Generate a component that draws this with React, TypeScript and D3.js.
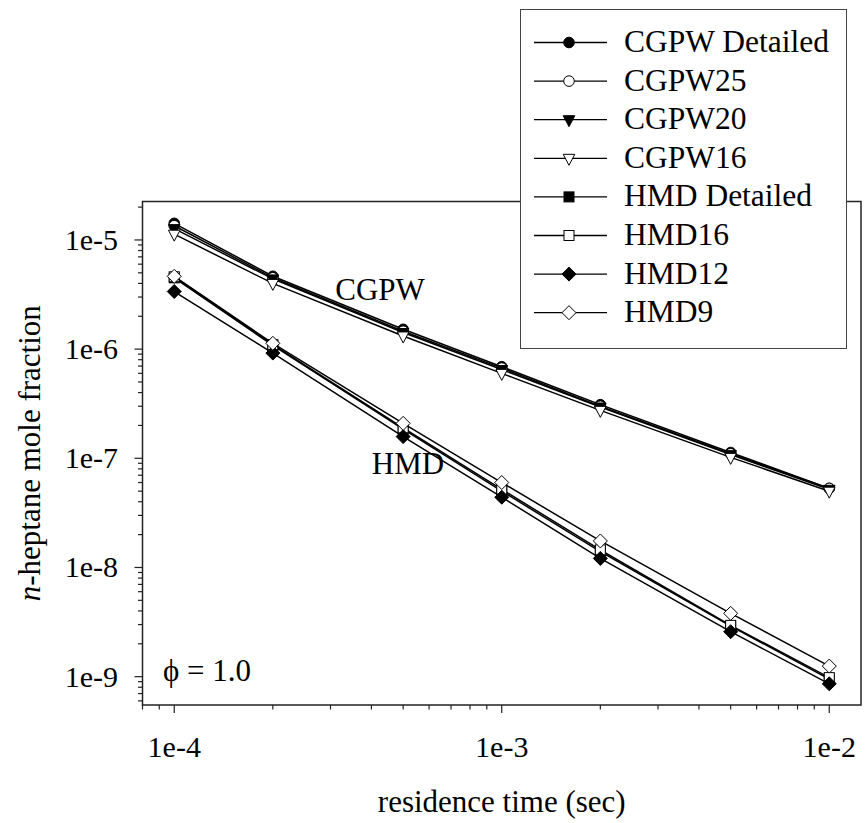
import * as d3 from 'd3'

// residence time (sec)
const times = [1e-4, 2e-4, 5e-4, 1e-3, 2e-3, 5e-3, 1e-2]

// n-heptane mole fraction per mechanism
const cgpwDetailed = [1.42e-5, 4.65e-6, 1.52e-6, 6.9e-7, 3.1e-7, 1.13e-7, 5.3e-8]
const cgpw25 = [1.35e-5, 4.5e-6, 1.46e-6, 6.7e-7, 3.0e-7, 1.1e-7, 5.3e-8]
const cgpw20 = [1.27e-5, 4.4e-6, 1.42e-6, 6.5e-7, 2.95e-7, 1.08e-7, 5.2e-8]
const cgpw16 = [1.13e-5, 4.0e-6, 1.32e-6, 6.0e-7, 2.75e-7, 1.02e-7, 5.0e-8]
const hmdDetailed = [4.5e-6, 1.08e-6, 1.85e-7, 5.0e-8, 1.4e-8, 2.9e-9, 9.5e-10]
const hmd16 = [4.6e-6, 1.1e-6, 1.9e-7, 5.2e-8, 1.45e-8, 2.95e-9, 9.8e-10]
const hmd12 = [3.37e-6, 9.2e-7, 1.58e-7, 4.4e-8, 1.21e-8, 2.58e-9, 8.6e-10]
const hmd9 = [4.64e-6, 1.13e-6, 2.09e-7, 6.0e-8, 1.75e-8, 3.8e-9, 1.25e-9]

const seriesNames = [
  'CGPW Detailed',
  'CGPW25',
  'CGPW20',
  'CGPW16',
  'HMD Detailed',
  'HMD16',
  'HMD12',
  'HMD9',
]

const xTickValues = [1e-4, 1e-3, 1e-2]
const xTickLabels = ['1e-4', '1e-3', '1e-2']
const yTickValues = [1e-5, 1e-6, 1e-7, 1e-8, 1e-9]
const yTickLabels = ['1e-5', '1e-6', '1e-7', '1e-8', '1e-9']

type Shape = 'circle' | 'triangle' | 'square' | 'diamond'

const series: { name: string; values: number[]; shape: Shape; filled: boolean }[] = [
  { name: seriesNames[0], values: cgpwDetailed, shape: 'circle', filled: true },
  { name: seriesNames[1], values: cgpw25, shape: 'circle', filled: false },
  { name: seriesNames[2], values: cgpw20, shape: 'triangle', filled: true },
  { name: seriesNames[3], values: cgpw16, shape: 'triangle', filled: false },
  { name: seriesNames[4], values: hmdDetailed, shape: 'square', filled: true },
  { name: seriesNames[5], values: hmd16, shape: 'square', filled: false },
  { name: seriesNames[6], values: hmd12, shape: 'diamond', filled: true },
  { name: seriesNames[7], values: hmd9, shape: 'diamond', filled: false },
]

const FONT = '"Liberation Serif", "Times New Roman", serif'
const W = 865
const H = 823
const margin = { left: 142.5, right: 861, top: 201.5, bottom: 705 }

function Marker({ shape, filled, cx, cy }: { shape: Shape; filled: boolean; cx: number; cy: number }) {
  const fill = filled ? '#000' : '#fff'
  const common = { fill, stroke: '#000', strokeWidth: 1 }
  if (shape === 'circle') return <circle cx={cx} cy={cy} r={5.3} {...common} />
  if (shape === 'square') return <rect x={cx - 5} y={cy - 5} width={10} height={10} {...common} />
  if (shape === 'diamond') {
    const r = 7
    return <path d={`M${cx},${cy - r}L${cx + r},${cy}L${cx},${cy + r}L${cx - r},${cy}Z`} {...common} />
  }
  // downward triangle
  const hw = 5.8
  return <path d={`M${cx - hw},${cy - 4}L${cx + hw},${cy - 4}L${cx},${cy + 7}Z`} {...common} />
}

function minorTicks(domain: [number, number]) {
  const out: number[] = []
  for (let e = -11; e <= 0; e++) {
    for (let k = 2; k <= 9; k++) {
      const v = k * Math.pow(10, e)
      if (v >= domain[0] * 0.999 && v <= domain[1] * 1.001) out.push(v)
    }
  }
  return out
}

export default function App() {
  const xDomain: [number, number] = [8e-5, 1.25e-2]
  const yDomain: [number, number] = [5.5e-10, 2.25e-5]
  const x = d3.scaleLog().domain(xDomain).range([margin.left, margin.right])
  const y = d3.scaleLog().domain(yDomain).range([margin.bottom, margin.top])
  const line = d3
    .line<[number, number]>()
    .x((d) => x(d[0]))
    .y((d) => y(d[1]))

  const xMinor = minorTicks(xDomain)
  const yMinor = minorTicks(yDomain)

  const legend = { x: 520.5, y: 9.5, w: 326, h: 339, row0: 42.5, step: 38.6 }

  return (
    <div style={{ position: 'absolute', left: 0, top: 0 }}>
      <svg width={W} height={H} style={{ display: 'block', background: '#fff' }} fontFamily={FONT}>
        {/* frame */}
        <rect
          x={margin.left}
          y={margin.top}
          width={margin.right - margin.left}
          height={margin.bottom - margin.top}
          fill="none"
          stroke="#222"
          strokeWidth={1.5}
        />

        {/* x ticks */}
        {xMinor.map((v) => (
          <line key={'xm' + v} x1={x(v)} x2={x(v)} y1={margin.bottom} y2={margin.bottom + 4.5} stroke="#222" strokeWidth={1.2} />
        ))}
        {xTickValues.map((v, i) => (
          <g key={'xt' + v}>
            <line x1={x(v)} x2={x(v)} y1={margin.bottom} y2={margin.bottom + 8} stroke="#222" strokeWidth={1.2} />
            <text x={x(v)} y={757} textAnchor="middle" fontSize={30}>
              {xTickLabels[i]}
            </text>
          </g>
        ))}

        {/* y ticks */}
        {yMinor.map((v) => (
          <line key={'ym' + v} x1={margin.left - 4.5} x2={margin.left} y1={y(v)} y2={y(v)} stroke="#222" strokeWidth={1.2} />
        ))}
        {yTickValues.map((v, i) => (
          <g key={'yt' + v}>
            <line x1={margin.left - 8} x2={margin.left} y1={y(v)} y2={y(v)} stroke="#222" strokeWidth={1.2} />
            <text x={118} y={y(v) + 10} textAnchor="end" fontSize={30}>
              {yTickLabels[i]}
            </text>
          </g>
        ))}

        {/* series */}
        {series.map((s) => {
          const pts = times.map((t, i) => [t, s.values[i]] as [number, number])
          return (
            <g key={s.name}>
              <path d={line(pts) ?? ''} fill="none" stroke="#000" strokeWidth={1.5} />
              {pts.map((p, i) => (
                <Marker key={i} shape={s.shape} filled={s.filled} cx={x(p[0])} cy={y(p[1])} />
              ))}
            </g>
          )
        })}

        {/* annotations */}
        <text x={380} y={300} textAnchor="middle" fontSize={31}>
          CGPW
        </text>
        <text x={408} y={474} textAnchor="middle" fontSize={31}>
          HMD
        </text>
        <text x={163} y={681} fontSize={31}>
          {'\u03d5 = 1.0'}
        </text>

        {/* axis titles */}
        <text x={(margin.left + margin.right) / 2} y={812} textAnchor="middle" fontSize={31}>
          residence time (sec)
        </text>
        <text
          transform={`translate(40,${(margin.top + margin.bottom) / 2}) rotate(-90)`}
          textAnchor="middle"
          fontSize={31}
        >
          <tspan fontStyle="italic">n</tspan>-heptane mole fraction
        </text>

        {/* legend */}
        <rect x={legend.x} y={legend.y} width={legend.w} height={legend.h} fill="#fff" stroke="#444" strokeWidth={1} />
        {series.map((s, i) => {
          const cy = legend.row0 + i * legend.step
          return (
            <g key={'lg' + s.name}>
              <line x1={534} x2={607} y1={cy} y2={cy} stroke="#000" strokeWidth={1.3} />
              <Marker shape={s.shape} filled={s.filled} cx={569} cy={cy} />
              <text x={624} y={cy + 9.5} fontSize={31.5}>
                {s.name}
              </text>
            </g>
          )
        })}
      </svg>
    </div>
  )
}
